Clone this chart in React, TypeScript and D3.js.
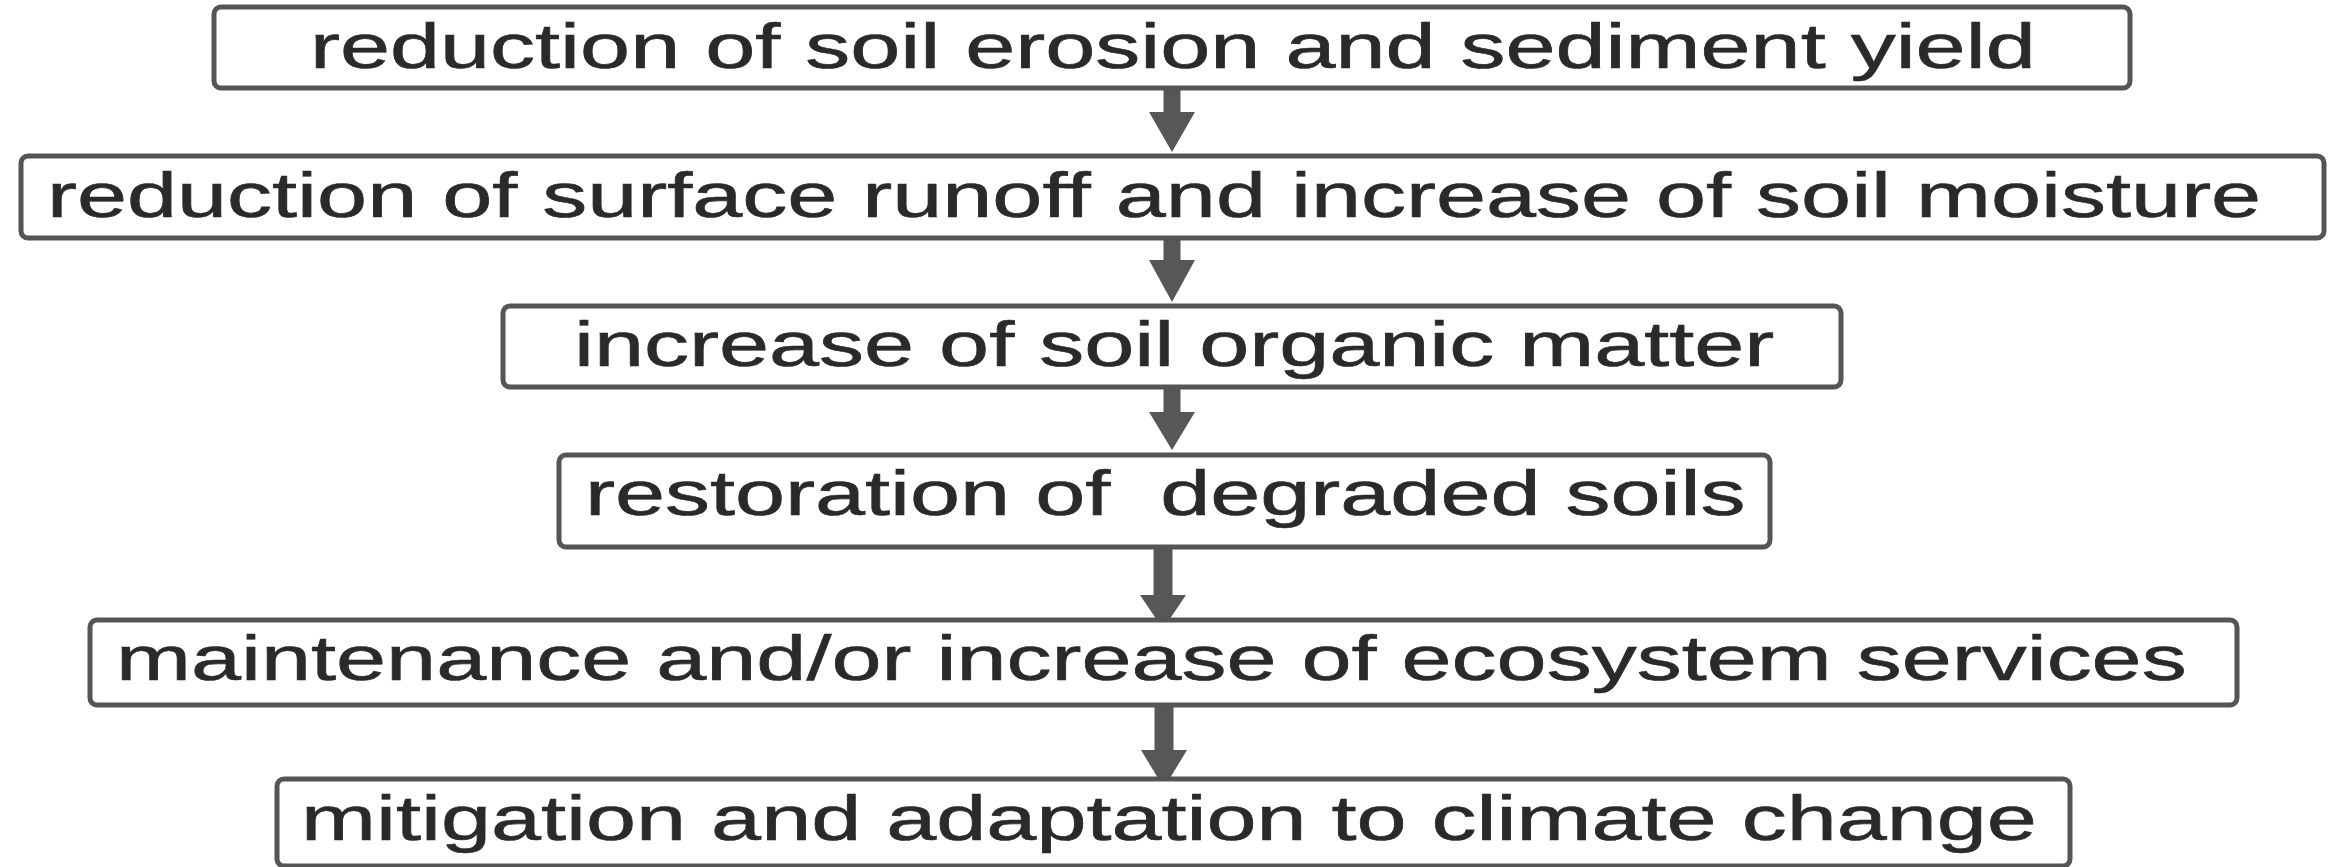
import React from "react";
import * as d3 from "d3";

// Flowchart content
const steps: string[] = [
  "reduction of soil erosion and sediment yield",
  "reduction of surface runoff and increase of soil moisture",
  "increase of soil organic matter",
  "restoration of  degraded soils",
  "maintenance and/or increase of ecosystem services",
  "mitigation and adaptation to climate change",
];

// Layout (pixels)
const boxLeft = [214, 21, 503, 559, 90, 277];
const boxRight = [2130, 2324, 1841, 1770, 2237, 2070];
const boxTop = [7, 156, 306, 455, 620, 779];
const boxBottom = [88, 238, 387, 547, 705, 866];
const textLeft = [310, 47, 574, 585, 116, 301];
const textBaseline = [68, 217, 366, 515, 680, 840];
const arrowX = [1172, 1172, 1172, 1163, 1164];
const shaftW = [17, 17, 17, 19, 19];
const arrowHeadStart = [112, 260, 412, 595, 750];
const arrowTip = [152, 302, 450, 629, 788];

const W = 2333;
const H = 867;
const FONT_SIZE = 62;
const STRETCH = 90 / 62;
const HEAD = 46;

export default function App() {
  const line = d3.line();
  return (
    <svg
      width={W}
      height={H}
      viewBox={`0 0 ${W} ${H}`}
      style={{ position: "absolute", left: 0, top: 0, background: "#fff" }}
    >
      <rect x={0} y={0} width={W} height={H} fill="#fff" />
      {arrowX.map((x, i) => {
        const y0 = boxBottom[i];
        const hs = arrowHeadStart[i];
        const tip = arrowTip[i];
        const sw = shaftW[i];
        const pts: [number, number][] = [
          [x - sw / 2, y0],
          [x + sw / 2, y0],
          [x + sw / 2, hs],
          [x + HEAD / 2, hs],
          [x, tip],
          [x - HEAD / 2, hs],
          [x - sw / 2, hs],
        ];
        return <path key={"a" + i} d={line(pts) + "Z"} fill="#575757" />;
      })}
      {steps.map((s, i) => (
        <g key={"b" + i}>
          <rect
            x={boxLeft[i]}
            y={boxTop[i]}
            width={boxRight[i] - boxLeft[i]}
            height={boxBottom[i] - boxTop[i]}
            rx={7}
            ry={7}
            fill="#fff"
            stroke="#555"
            strokeWidth={5}
          />
          <text
            transform={`translate(${textLeft[i]},${textBaseline[i]}) scale(${STRETCH},1)`}
            fontFamily="'Liberation Sans', Arial, sans-serif"
            fontSize={FONT_SIZE}
            fill="#2a2a2a"
            stroke="#2a2a2a"
            strokeWidth={0.6}
            style={{ whiteSpace: "pre" }}
          >
            {s}
          </text>
        </g>
      ))}
    </svg>
  );
}
